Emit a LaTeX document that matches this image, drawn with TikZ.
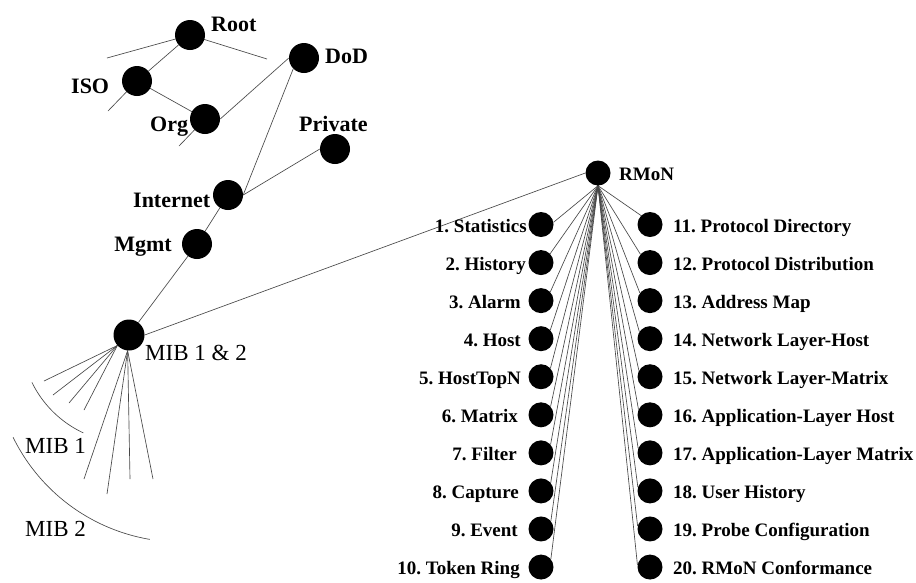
\documentclass[tikz,border=0pt]{standalone}
\usepackage{fontspec}
\setmainfont{Liberation Serif}
\usetikzlibrary{backgrounds}
\begin{document}
\frenchspacing
\begin{tikzpicture}[x=1pt,y=-1pt,
  link/.style={draw=black!72, line width=0.65pt},
  bigdot/.style={circle, fill=black, inner sep=0pt, minimum size=30pt},
  dot/.style={circle, fill=black, inner sep=0pt, minimum size=25pt},
  toplabel/.style={font=\fontsize{22}{26}\selectfont\bfseries, inner sep=0pt},
  miblabel/.style={font=\fontsize{23}{27}\selectfont, inner sep=0pt},
  grouplabel/.style={font=\fontsize{19}{22}\selectfont\bfseries, inner sep=0pt},
]
\useasboundingbox (0,0) rectangle (916,582);

% --- OID tree nodes ---
\node[bigdot] (Root)     at (190,35)  {};
\node[bigdot] (DoD)      at (304,58)  {};
\node[bigdot] (ISO)      at (137,81)  {};
\node[bigdot] (Org)      at (205,119) {};
\node[bigdot] (Private)  at (335,149) {};
\node[bigdot] (Internet) at (228,195) {};
\node[bigdot] (Mgmt)     at (197,244) {};
\node[bigdot, minimum size=31pt] (MIB) at (129,335) {};
\node[dot] (RMoN) at (598,173) {};

% --- tree labels ---
\node[toplabel, anchor=base west] (tRoot)     at (211,31)  {Root};
\node[toplabel, anchor=base west] (tDoD)      at (325,63)  {DoD};
\node[toplabel, anchor=base west] (tISO)      at (71,93)   {ISO};
\node[toplabel, anchor=base west] (tOrg)      at (150,131) {Org};
\node[toplabel, anchor=base west] (tPrivate)  at (299,131) {Private};
\node[toplabel, anchor=base west] (tInternet) at (133,207) {Internet};
\node[toplabel, anchor=base east] (tMgmt)     at (172,251) {Mgmt};
\node[miblabel, anchor=base west] (tMIB)      at (145,360) {MIB 1 \& 2};
\node[miblabel, anchor=base west] (tMIBa)     at (25,453)  {MIB 1};
\node[miblabel, anchor=base west] (tMIBb)     at (25,536)  {MIB 2};
\node[grouplabel, anchor=base west] (tRMoN)   at (619,180) {RMoN};

% --- RMoN groups, left column ---
\foreach \i/\name/\endx in {1/{1. Statistics}/527, 2/{2. History}/526,
    3/{3. Alarm}/521, 4/{4. Host}/521, 5/{5. HostTopN}/521,
    6/{6. Matrix}/518, 7/{7. Filter}/517, 8/{8. Capture}/519,
    9/{9. Event}/518, 10/{10. Token Ring}/520} {
  \node[dot] (L\i) at (541, {224.5+38.06*(\i-1)}) {};
  \node[grouplabel, anchor=base east] (tL\i) at (\endx, {232+38.06*(\i-1)}) {\name};
}

% --- RMoN groups, right column ---
\foreach \i/\name in {11/{11. Protocol Directory}, 12/{12. Protocol Distribution},
    13/{13. Address Map}, 14/{14. Network Layer-Host},
    15/{15. Network Layer-Matrix}, 16/{16. Application-Layer Host},
    17/{17. Application-Layer Matrix}, 18/{18. User History},
    19/{19. Probe Configuration}, 20/{20. RMoN Conformance}} {
  \node[dot] (R\i) at (650, {224.5+38.06*(\i-11)}) {};
  \node[grouplabel, anchor=base west] (tR\i) at (673, {232+38.06*(\i-11)}) {\name};
}

% --- free ends of the stub branches ---
\coordinate (rootL) at (107,58);
\coordinate (rootR) at (267,59);
\coordinate (isoL)  at (108,111);
\coordinate (orgL)  at (179,146);
\coordinate (m1) at (44,381);
\coordinate (m2) at (53,395);
\coordinate (m3) at (69,403);
\coordinate (m4) at (84,410);
\coordinate (m5) at (84,479);
\coordinate (m6) at (107,494);
\coordinate (m7) at (130,479);
\coordinate (m8) at (153,479);

\begin{scope}[on background layer]
  \fill[white] (0,0) rectangle (916,582);
  % tree branches
  \draw[link] (rootL) -- (Root.center) -- (rootR);
  \draw[link] (Root) -- (ISO);
  \draw[link] (isoL) -- (ISO.center) -- (Org.center) -- (orgL);
  \draw[link] (Org.east) -- (DoD.west);
  \draw[link] (DoD.south west) -- (Internet.east);
  \draw[link] (Private.west) -- (Internet.east);
  \draw[link] (Internet) -- (Mgmt);
  \draw[link] (Mgmt) -- (MIB);
  \draw[link] (MIB.east) -- (RMoN.west);
  % MIB fan
  \foreach \k in {1,...,4} \draw[link] (MIB.222) -- (m\k);
  \foreach \k in {5,...,8} \draw[link] (MIB.265) -- (m\k);
  % MIB brackets
  \draw[link] plot[domain=115:154, samples=40, smooth] ({129+108*cos(\x)}, {335+108*sin(\x)});
  \draw[link] plot[domain=99.6:153.9, samples=50, smooth] ({181+187*cos(\x)}, {355+187*sin(\x)});
  % RMoN fan
  \draw[link] (RMoN.south) -- (L1.10);
  \foreach \i in {2,...,10} {
    \pgfmathtruncatemacro{\ang}{46-\i*0.7}
    \draw[link] (RMoN.south) -- (L\i.\ang);
  }
  \foreach \i in {11,...,20} {
    \pgfmathtruncatemacro{\ang}{135+(\i-11)*4}
    \draw[link] (RMoN.south) -- (R\i.\ang);
  }
\end{scope}
\end{tikzpicture}
\end{document}
